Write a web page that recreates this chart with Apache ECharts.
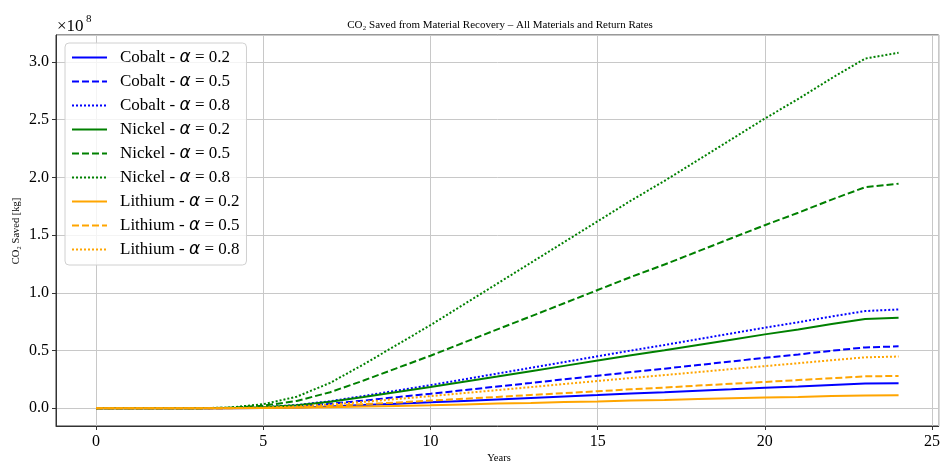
<!DOCTYPE html>
<html>
<head>
<meta charset="utf-8">
<script src="https://cdn.jsdelivr.net/npm/echarts@6/dist/echarts.min.js"></script>
<style>html,body{margin:0;padding:0;background:#fff}#c{width:943px;height:463px}</style>
</head>
<body>
<div id="c"></div>
<script>
// values in units of 1e8 kg CO2
const years = [0,1,2,3,4,5,6,7,8,9,10,11,12,13,14,15,16,17,18,19,20,21,22,23,24];
const cobalt02 = [0,0,0,0,0.0004,0.0025,0.007,0.0155,0.027,0.039,0.051,0.063,0.076,0.089,0.102,0.114,0.127,0.139,0.152,0.164,0.177,0.189,0.202,0.214,0.217];
const cobalt05 = [0,0,0,0,0.001,0.006,0.017,0.038,0.066,0.096,0.125,0.157,0.188,0.219,0.251,0.282,0.313,0.343,0.374,0.405,0.437,0.466,0.498,0.527,0.536];
const cobalt08 = [0,0,0,0,0.002,0.010,0.028,0.061,0.106,0.153,0.200,0.250,0.300,0.350,0.400,0.450,0.500,0.548,0.598,0.648,0.698,0.745,0.795,0.842,0.856];
const nickel02 = [0,0,0,0,0.002,0.009,0.026,0.056,0.097,0.140,0.184,0.230,0.275,0.321,0.367,0.413,0.459,0.502,0.548,0.594,0.640,0.683,0.729,0.773,0.785];
const nickel05 = [0,0,0,0,0.004,0.022,0.063,0.139,0.240,0.348,0.455,0.569,0.683,0.796,0.910,1.024,1.138,1.245,1.359,1.473,1.586,1.694,1.808,1.915,1.946];
const nickel08 = [0,0,0,0,0.006,0.035,0.10,0.22,0.38,0.55,0.72,0.90,1.08,1.26,1.44,1.62,1.80,1.97,2.15,2.33,2.51,2.68,2.86,3.03,3.08];
const lithium02 = [0,0,0,0,0.0002,0.0013,0.0037,0.008,0.014,0.020,0.026,0.033,0.040,0.046,0.053,0.059,0.066,0.072,0.079,0.086,0.092,0.098,0.105,0.111,0.113];
const lithium05 = [0,0,0,0,0.0005,0.003,0.009,0.020,0.035,0.050,0.066,0.082,0.098,0.115,0.131,0.147,0.164,0.179,0.196,0.212,0.228,0.244,0.260,0.276,0.280];
const lithium08 = [0,0,0,0,0.001,0.005,0.015,0.032,0.055,0.080,0.105,0.131,0.157,0.183,0.210,0.236,0.262,0.287,0.313,0.339,0.365,0.390,0.416,0.441,0.448];

const seriesNames = [
  'Cobalt - α = 0.2','Cobalt - α = 0.5','Cobalt - α = 0.8',
  'Nickel - α = 0.2','Nickel - α = 0.5','Nickel - α = 0.8',
  'Lithium - α = 0.2','Lithium - α = 0.5','Lithium - α = 0.8'
];
const seriesData = [cobalt02,cobalt05,cobalt08,nickel02,nickel05,nickel08,lithium02,lithium05,lithium08];
const colors = ['#0000ff','#0000ff','#0000ff','#008000','#008000','#008000','#ffa500','#ffa500','#ffa500'];
const dashes = ['solid',[7,3],[2,2],'solid',[7,3],[2,2],'solid',[7,3],[2,2]];

const serif = 'Liberation Serif';
const chart = echarts.init(document.getElementById('c'), null, {renderer:'canvas'});

const series = seriesNames.map((n,i)=>({
  name:n, type:'line', symbol:'none', silent:true,
  data: years.map((y,j)=>[y, seriesData[i][j]]),
  lineStyle:{color:colors[i], width:2, type:dashes[i]},
  itemStyle:{color:colors[i]},
  animation:false
}));

chart.setOption({
  animation:false,
  grid:{left:56, right:2, top:35, bottom:37, show:true, borderColor:'#333', borderWidth:1, backgroundColor:'transparent'},
  xAxis:{
    type:'value', min:-1.2, max:25.2, splitNumber:5,
    axisLine:{show:true, onZero:false, lineStyle:{color:'#333', width:1}},
    axisTick:{show:true, inside:false, length:4, lineStyle:{color:'#333'}},
    axisLabel:{show:true, showMinLabel:false, showMaxLabel:false, color:'#000', fontFamily:serif, fontSize:16, margin:8,
      formatter:v=>String(Math.round(v))},
    splitLine:{show:true, lineStyle:{color:'#c8c8c8', width:1}}
  },
  yAxis:{
    type:'value', min:-0.154, max:3.234, splitNumber:7,
    axisLine:{show:true, onZero:false, lineStyle:{color:'#333', width:1}},
    axisTick:{show:true, inside:false, length:4, lineStyle:{color:'#333'}},
    axisLabel:{show:true, showMinLabel:false, showMaxLabel:false, color:'#000', fontFamily:serif, fontSize:16, margin:7,
      formatter:v=>v.toFixed(1)},
    splitLine:{show:true, lineStyle:{color:'#c8c8c8', width:1}}
  },
  legend:{
    show:true, orient:'vertical', left:65, top:43,
    itemWidth:35, itemHeight:17, itemGap:7,
    padding:[6,7,7,6],
    backgroundColor:'rgba(255,255,255,0.8)', borderColor:'#d0d0d0', borderWidth:1, borderRadius:4,
    itemStyle:{color:'transparent', opacity:0, borderWidth:0},
    data:seriesNames,
    formatter:function(name){
      const parts = name.split('α');
      return '{a|'+parts[0]+'}{b|α}{a|'+parts[1]+'}';
    },
    textStyle:{
      color:'#000', fontFamily:serif, fontSize:17, padding:[0,0,0,8],
      rich:{
        a:{fontFamily:serif, fontSize:17, color:'#000'},
        b:{fontFamily:'DejaVu Sans', fontStyle:'italic', fontSize:17, color:'#000'}
      }
    }
  },
  graphic:[
    {type:'text', x:500, y:25, style:{text:'CO₂ Saved from Material Recovery – All Materials and Return Rates', font:'11px "Liberation Serif"', fill:'#000', align:'center', verticalAlign:'middle'}},
    {type:'text', x:499, y:458, style:{text:'Years', font:'10.5px "Liberation Serif"', fill:'#000', align:'center', verticalAlign:'middle'}},
    {type:'text', x:16, y:231, rotation:Math.PI/2, style:{text:'CO₂ Saved [kg]', font:'10.5px "Liberation Serif"', fill:'#000', align:'center', verticalAlign:'middle'}},
    {type:'text', x:57, y:27, style:{text:'×10', font:'17px "Liberation Serif"', fill:'#000', align:'left', verticalAlign:'middle'}},
    {type:'text', x:86, y:19, style:{text:'8', font:'11px "Liberation Serif"', fill:'#000', align:'left', verticalAlign:'middle'}}
  ],
  series:series
});
</script>
</body>
</html>
